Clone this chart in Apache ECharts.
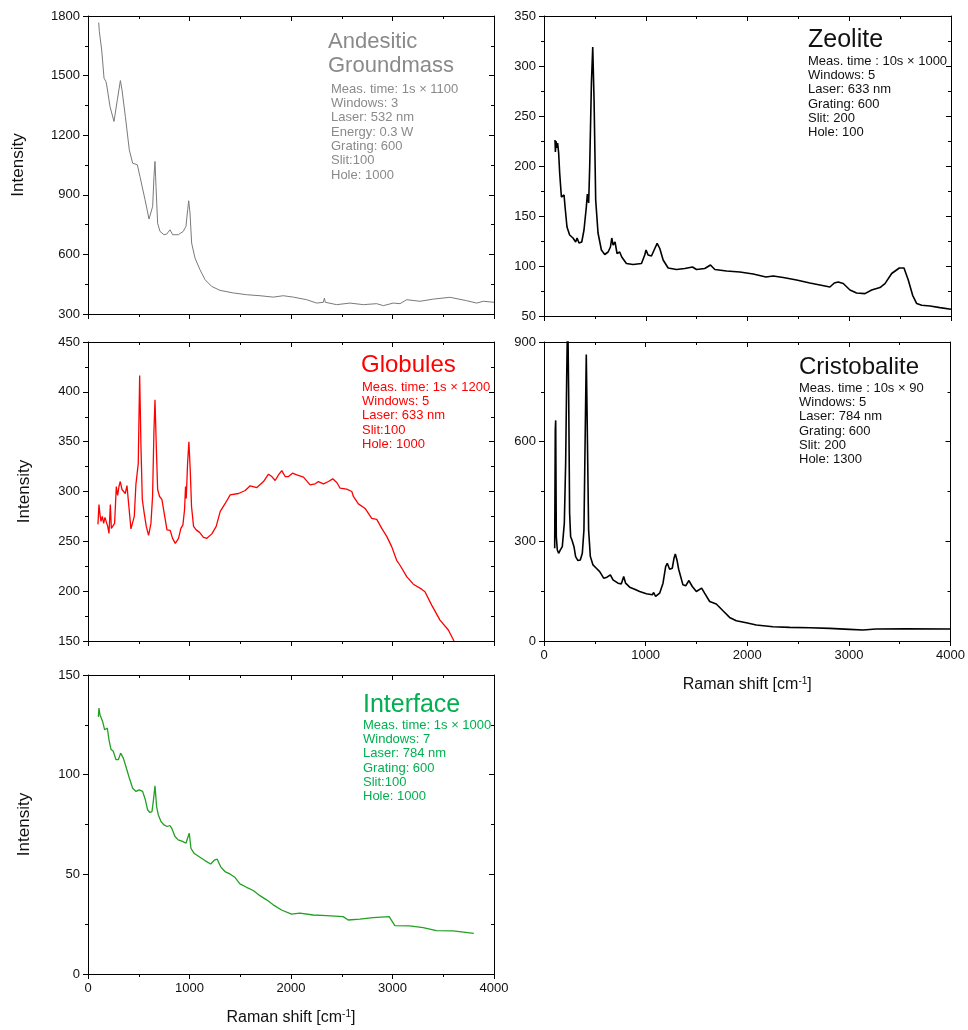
<!DOCTYPE html>
<html>
<head>
<meta charset="utf-8">
<script src="https://cdn.jsdelivr.net/npm/echarts@6/dist/echarts.min.js"></script>
<style>html,body{margin:0;padding:0;background:#fff}#c{width:968px;height:1030px}</style>
</head>
<body>
<div id="c"></div>
<script>
// ---- Data (Raman shift [cm-1], Intensity) ----
const andesiticX = [105,112,135,158,177,184,217,256,289,319,335,348,368,381,407,440,486,512,562,601,617,637,650,660,670,686,709,749,775,808,834,890,939,965,982,992,1005,1021,1054,1103,1153,1218,1300,1432,1563,1695,1826,1924,2023,2154,2253,2319,2329,2338,2450,2581,2713,2844,2910,3008,3074,3140,3271,3402,3566,3731,3829,3895,4000];
const andesiticY = [1767,1721,1629,1487,1470,1453,1344,1269,1378,1475,1428,1420,1294,1285,1126,1059,1051,992,875,778,778,841,992,1068,942,757,716,699,702,724,699,699,716,741,825,870,808,657,582,523,473,439,419,406,397,392,385,392,385,372,355,359,380,359,347,355,347,352,342,355,352,372,364,375,384,367,355,364,359];

const zeoliteX = [108,112,118,128,134,144,154,171,187,197,207,226,252,262,285,311,325,344,371,393,416,426,439,449,466,479,492,508,531,564,597,630,653,666,679,698,718,744,764,810,875,958,990,1003,1023,1056,1089,1112,1138,1171,1220,1302,1384,1459,1499,1580,1636,1679,1794,1925,2056,2181,2253,2351,2482,2613,2712,2810,2853,2892,2941,3007,3072,3154,3220,3302,3351,3417,3492,3538,3580,3623,3663,3712,3794,3892,4000];
const zeoliteY = [226,214,225,218,223,213,193,169,168,171,159,139,131,133,128,124,128,123,124,136,159,172,163,199,283,319,266,166,133,116,111.5,114,119,128,121,124,112.5,114,109,102.5,101.5,102.5,111,116,111,110,117.5,122.6,117.5,106,98,96.5,97.5,99,96.5,97.5,101,96.5,95,94,92,89,90,88.5,86,83,81,79,83,84,82.5,76,73,72.4,76,78.4,82.4,92.5,98,98,86,70.7,62.4,60.7,60,58.4,56.7];

const globulesX = [98,108,118,128,141,154,167,180,194,207,220,230,246,262,279,292,305,318,335,351,367,384,400,423,440,456,472,482,495,509,522,535,554,574,597,620,636,650,660,673,686,705,728,751,778,810,833,860,892,915,935,951,961,968,981,994,1007,1020,1040,1066,1099,1138,1171,1220,1263,1303,1352,1401,1483,1549,1598,1663,1729,1778,1811,1844,1877,1909,1942,1975,2015,2057,2123,2188,2238,2270,2320,2369,2411,2451,2484,2549,2599,2615,2664,2730,2795,2845,2894,2943,2992,3041,3074,3140,3205,3287,3320,3386,3468,3550,3606];
const globulesY = [267,287,277,270,275,268,274,275,265,258,287,263,261.5,268,305,296,305,310,302,303,298,306,288,262.5,262.5,275,307,305,328,416.5,345,292,278,265,256,268,295,362,392,345,302,295,292,278,261.5,261,253,248,253,263,266.5,281.5,305,293,328,350,322,285,265,261.5,259,254,253,257.5,265,280,288,296.6,298,301,305.7,304,310,317.4,315,311,316.7,321,315,315,318.4,316.7,314.4,306.7,307.7,310,307.7,310,312.7,309,303.3,302.3,300,295,287.6,283,273,272,263,255,244.7,231,226,214.6,207,202,199.5,186,171,161,150];

const cristobaliteX = [105,111,115,121,131,144,161,180,200,213,223,233,243,252,262,275,285,295,311,334,357,377,393,406,416,426,439,456,482,515,548,587,620,653,679,728,761,784,803,843,892,941,1007,1066,1079,1098,1138,1171,1197,1213,1236,1262,1279,1292,1308,1325,1341,1367,1394,1426,1459,1499,1551,1580,1630,1695,1761,1826,1892,1990,2089,2253,2417,2613,2810,3007,3138,3269,3564,4000];
const cristobaliteY = [279,636,664,314,274,264,274,284,355,535,786,1000,736,385,314,304,309,284,254,242,244,264,334,636,862,636,334,254,229,219,209,189,192,199,184,174,172,194,174,162,156,149,142,139,146,134,144,174,224,234,216,219,249,262,244,216,214,169,166,182,164,149,159,144,119,111.5,91,71,61,55,48,43,41,40,38,35,33,36,37,36];

const interfaceX = [102,108,118,128,144,164,177,190,207,226,249,276,299,322,348,374,407,440,473,505,538,565,587,610,630,643,660,676,692,719,748,781,807,824,857,889,932,965,981,998,1014,1044,1103,1152,1208,1250,1273,1306,1349,1398,1447,1497,1562,1628,1694,1759,1825,1907,2005,2087,2219,2350,2514,2563,2678,2809,2967,2980,3023,3170,3302,3433,3597,3801];
const interfaceY = [129,133.4,130,131,126.7,122.5,123.4,123.4,117.5,112.8,111.7,107.5,107.5,110.8,108.3,104,98.3,93.2,91.6,92.4,91.6,87.4,82.4,81,81.5,86.5,94.4,84,79.9,76.5,74.8,74,74.5,73.2,69,67.3,66.5,65.6,68.1,70.6,63.1,60.6,58.6,56.9,55.2,57.3,57.6,53.9,51.4,50.2,48.5,45.2,43.5,41.9,39.3,37.2,34.7,32.1,30,30.5,29.6,29.3,28.8,27.1,27.5,28.3,28.8,28,24.3,24.1,23.3,21.8,21.6,20.4];

// axis ranges / ticks
const xRange = [0, 4000, 1000];
const yRanges = {
  andesitic: [300, 1800, 300],
  globules: [150, 450, 50],
  interface: [0, 150, 50],
  zeolite: [50, 350, 50],
  cristobalite: [0, 900, 300]
};

// annotation texts
const notes = {
  andesitic: ['Meas. time: 1s × 1100','Windows: 3','Laser: 532 nm','Energy: 0.3 W','Grating: 600','Slit:100','Hole: 1000'],
  zeolite: ['Meas. time : 10s × 1000','Windows: 5','Laser: 633 nm','Grating: 600','Slit: 200','Hole: 100'],
  globules: ['Meas. time: 1s × 1200','Windows: 5','Laser: 633 nm','Slit:100','Hole: 1000'],
  cristobalite: ['Meas. time : 10s × 90','Windows: 5','Laser: 784 nm','Grating: 600','Slit: 200','Hole: 1300'],
  interface: ['Meas. time: 1s × 1000','Windows: 7','Laser: 784 nm','Grating: 600','Slit:100','Hole: 1000']
};

const zip = (xs, ys) => xs.map((x, i) => [x, ys[i]]);
const FONT = '"Liberation Sans", Arial, sans-serif';

const panels = [
  {key:'andesitic', left:88, top:16, width:406, height:298, xs:andesiticX, ys:andesiticY, color:'#7a7a7a', lw:1, xLabels:false, yName:'Intensity', yGap:61},
  {key:'globules', left:88, top:342, width:406, height:299, xs:globulesX, ys:globulesY, color:'#ff0000', lw:1.3, xLabels:false, yName:'Intensity', yGap:55},
  {key:'interface', left:88, top:675, width:406, height:299, xs:interfaceX, ys:interfaceY, color:'#22a022', lw:1.3, xLabels:true, yName:'Intensity', yGap:55},
  {key:'zeolite', left:544, top:16, width:407, height:300, xs:zeoliteX, ys:zeoliteY, color:'#000000', lw:1.6, xLabels:false, yName:'', yGap:0},
  {key:'cristobalite', left:544, top:342, width:407, height:299, xs:cristobaliteX, ys:cristobaliteY, color:'#000000', lw:1.6, xLabels:true, yName:'', yGap:0}
];

const grid = [], xAxis = [], yAxis = [], series = [];
const axisLine = {show:true, onZero:false, lineStyle:{color:'#000', width:1}};
const label = {color:'#111', fontSize:13, fontFamily:FONT, formatter: v => String(v)};
panels.forEach((p, i) => {
  grid.push({left:p.left, top:p.top, width:p.width, height:p.height, containLabel:false});
  const yr = yRanges[p.key];
  // bottom x
  xAxis.push({type:'value', gridIndex:i, position:'bottom', min:xRange[0], max:xRange[1], interval:xRange[2],
    axisLine, splitLine:{show:false},
    axisTick:{show:true, inside:false, length:5, lineStyle:{color:'#000'}},
    minorTick:{show:true, splitNumber:2, length:3, lineStyle:{color:'#000'}},
    axisLabel:Object.assign({show:p.xLabels, margin:8}, label),
    name:p.xLabels ? 'Raman shift [cm{sup|-1}]' : '', nameLocation:'middle', nameGap:35,
    nameTextStyle:{color:'#111', fontSize:16, fontFamily:FONT, rich:{sup:{fontSize:10, verticalAlign:'top', padding:[0,0,8,0], color:'#111', fontFamily:FONT}}}
  });
  // top x (mirror)
  xAxis.push({type:'value', gridIndex:i, position:'top', min:xRange[0], max:xRange[1], interval:xRange[2],
    axisLine, splitLine:{show:false},
    axisTick:{show:true, inside:true, length:5, lineStyle:{color:'#000'}},
    minorTick:{show:true, splitNumber:2, length:3, lineStyle:{color:'#000'}},
    axisLabel:{show:false}
  });
  // left y
  yAxis.push({type:'value', gridIndex:i, position:'left', min:yr[0], max:yr[1], interval:yr[2],
    axisLine, splitLine:{show:false},
    axisTick:{show:true, inside:false, length:5, lineStyle:{color:'#000'}},
    minorTick:{show:true, splitNumber:2, length:3, lineStyle:{color:'#000'}},
    axisLabel:Object.assign({margin:8}, label),
    name:p.yName, nameLocation:'middle', nameGap:p.yGap, nameRotate:90,
    nameTextStyle:{color:'#111', fontSize:17, fontFamily:FONT}
  });
  // right y (mirror)
  yAxis.push({type:'value', gridIndex:i, position:'right', min:yr[0], max:yr[1], interval:yr[2],
    axisLine, splitLine:{show:false},
    axisTick:{show:true, inside:true, length:5, lineStyle:{color:'#000'}},
    minorTick:{show:true, splitNumber:2, length:3, lineStyle:{color:'#000'}},
    axisLabel:{show:false}
  });
  series.push({type:'line', xAxisIndex:i*2, yAxisIndex:i*2, data:zip(p.xs, p.ys), showSymbol:false, symbol:'none',
    clip:true, smooth:false, lineStyle:{color:p.color, width:p.lw}, animation:false, silent:true});
});

// annotations
const graphic = [];
function addNote(titleLines, titleSize, titleX, titleBaselines, color, detailKey, detX, detBase) {
  titleLines.forEach((t, k) => {
    graphic.push({type:'text', left:titleX, top:titleBaselines[k] - titleSize*0.8,
      style:{text:t, fill:color, font:`${titleSize}px ${FONT}`}});
  });
  notes[detailKey].forEach((t, k) => {
    graphic.push({type:'text', left:detX, top:detBase + k*14.35 - 10.5,
      style:{text:t, fill:color, font:`13px ${FONT}`}});
  });
}
addNote(['Andesitic','Groundmass'], 22, 328, [49,73], '#8a8a8a', 'andesitic', 331, 93);
addNote(['Zeolite'], 25, 808, [48], '#111111', 'zeolite', 808, 65);
addNote(['Globules'], 24, 361, [373], '#ff0000', 'globules', 362, 391);
addNote(['Cristobalite'], 24, 799, [375], '#111111', 'cristobalite', 799, 392);
addNote(['Interface'], 25, 363, [713], '#00b050', 'interface', 363, 729);

const chart = echarts.init(document.getElementById('c'), null, {renderer:'canvas'});
chart.setOption({animation:false, backgroundColor:'#fff', grid, xAxis, yAxis, series, graphic});
</script>
</body>
</html>
